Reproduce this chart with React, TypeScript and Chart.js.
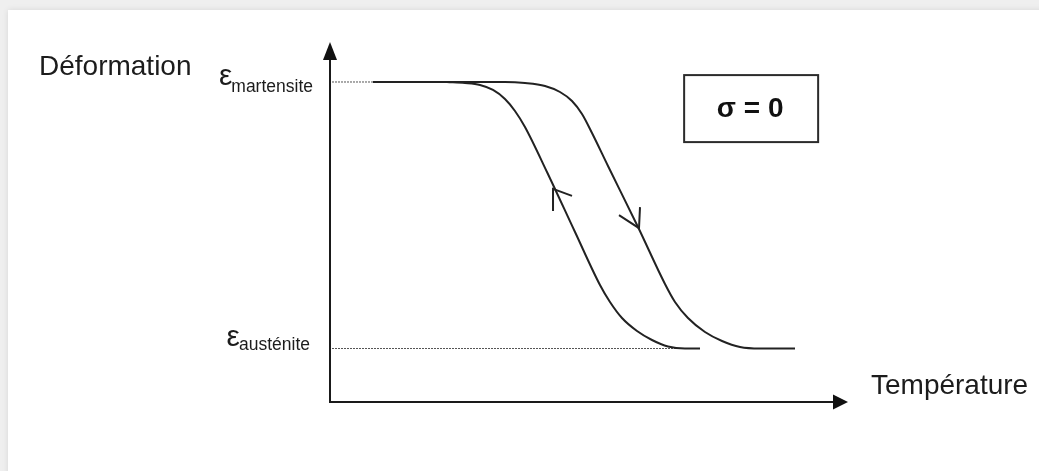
import React, { useEffect, useRef } from "react";
import { Chart, registerables } from "chart.js";

Chart.register(...registerables);

// Heating branch (martensite -> austenite), temperature vs deformation
const heatingTemp = [8.3, 33.78, 37.64, 41.51, 44.4, 46.72, 48.65, 50.58, 53.67, 59.46, 64.67, 66.6, 69.11, 72.39, 75.68, 79.15, 83.01, 89.77];
const heatingDef = [88.89, 88.89, 88.61, 87.78, 86.11, 83.61, 80.0, 74.72, 65.56, 48.61, 32.78, 27.78, 23.33, 19.44, 16.94, 15.28, 14.86, 14.86];

// Cooling branch (austenite -> martensite)
const coolingTemp = [22.59, 26.06, 28.96, 31.47, 33.78, 35.71, 37.64, 41.89, 47.3, 52.12, 54.05, 56.37, 59.27, 62.16, 65.25, 68.53, 71.43];
const coolingDef = [88.89, 88.61, 88.06, 86.67, 84.17, 80.83, 76.39, 63.89, 47.22, 32.5, 27.78, 23.33, 19.72, 17.22, 15.42, 14.86, 14.86];

// Reference levels
const levelNames = ["martensite", "austénite"];
const levelValues = [88.89, 14.86];
const levelDotEnd = [8.3, 71.0];

// Direction arrows on the branches [temp, def]
const heatingArrow = [59.46, 48.3];
const coolingArrow = [43.44, 59.2];

// Annotation box
const boxText = "σ = 0";
const boxCenter = [81.3, 81.5];

const yTitle = "Déformation";
const xTitle = "Température";

const FONT = '"Liberation Sans", Arial, Helvetica, sans-serif';

const diagramPlugin = {
  id: "diagram",
  beforeDatasetsDraw(chart: any) {
    const ctx = chart.ctx as CanvasRenderingContext2D;
    const xs = chart.scales.x;
    const ys = chart.scales.y;
    const x0 = xs.getPixelForValue(0);
    ctx.save();
    ctx.strokeStyle = "#555";
    ctx.lineWidth = 1;
    ctx.setLineDash([2, 1]);
    levelValues.forEach((v, i) => {
      const py = ys.getPixelForValue(v);
      ctx.beginPath();
      ctx.moveTo(x0 + 2, py);
      ctx.lineTo(xs.getPixelForValue(levelDotEnd[i]), py);
      ctx.stroke();
    });
    ctx.restore();
  },
  afterDatasetsDraw(chart: any) {
    const ctx = chart.ctx as CanvasRenderingContext2D;
    const xs = chart.scales.x;
    const ys = chart.scales.y;
    const x0 = xs.getPixelForValue(0);
    const y0 = ys.getPixelForValue(0);
    const xTip = xs.getPixelForValue(100);
    const yTip = ys.getPixelForValue(100);
    ctx.save();
    // axes
    ctx.strokeStyle = "#1a1a1a";
    ctx.fillStyle = "#111";
    ctx.lineWidth = 2;
    ctx.beginPath();
    ctx.moveTo(x0, y0 + 1);
    ctx.lineTo(x0, yTip + 14);
    ctx.moveTo(x0 - 1, y0);
    ctx.lineTo(xTip - 13, y0);
    ctx.stroke();
    ctx.beginPath();
    ctx.moveTo(x0, yTip);
    ctx.lineTo(x0 - 7, yTip + 18);
    ctx.lineTo(x0 + 7, yTip + 18);
    ctx.closePath();
    ctx.fill();
    ctx.beginPath();
    ctx.moveTo(xTip, y0);
    ctx.lineTo(xTip - 15, y0 - 7.5);
    ctx.lineTo(xTip - 15, y0 + 7.5);
    ctx.closePath();
    ctx.fill();

    // branch arrows
    ctx.strokeStyle = "#222";
    ctx.lineWidth = 2;
    const ua = [xs.getPixelForValue(coolingArrow[0]), ys.getPixelForValue(coolingArrow[1])];
    ctx.beginPath();
    ctx.moveTo(ua[0] - 2, ua[1] + 22);
    ctx.lineTo(ua[0] - 2, ua[1]);
    ctx.lineTo(ua[0] + 17, ua[1] + 7);
    ctx.stroke();
    const da = [xs.getPixelForValue(heatingArrow[0]), ys.getPixelForValue(heatingArrow[1])];
    ctx.beginPath();
    ctx.moveTo(da[0] + 2, da[1] - 21);
    ctx.lineTo(da[0] + 1, da[1]);
    ctx.lineTo(da[0] - 19, da[1] - 13);
    ctx.stroke();

    // texts
    ctx.fillStyle = "#1c1c1c";
    ctx.textBaseline = "alphabetic";
    ctx.textAlign = "left";
    ctx.font = `28px ${FONT}`;
    ctx.fillText(yTitle, 39, 75);
    ctx.fillText(xTitle, xTip + 23, y0 - 8);

    // level labels (epsilon + subscript), right aligned near the axis
    const offsets = [
      { right: 313, eps: 3, sub: 10 },
      { right: 310, eps: -3, sub: 1.5 },
    ];
    levelNames.forEach((name, i) => {
      const py = ys.getPixelForValue(levelValues[i]);
      const o = offsets[i];
      ctx.font = `17.5px ${FONT}`;
      const subW = ctx.measureText(name).width;
      const subLeft = o.right - subW;
      ctx.fillText(name, subLeft, py + o.sub);
      ctx.font = `30px ${FONT}`;
      const epsW = ctx.measureText("ε").width;
      ctx.fillText("ε", subLeft - epsW + 1, py + o.eps);
    });

    // sigma box
    const bx = xs.getPixelForValue(boxCenter[0]);
    const by = ys.getPixelForValue(boxCenter[1]);
    ctx.strokeStyle = "#2b2b2b";
    ctx.lineWidth = 2;
    ctx.strokeRect(bx - 67, by - 33.5, 134, 67);
    ctx.font = `bold 28px ${FONT}`;
    ctx.textAlign = "center";
    ctx.textBaseline = "middle";
    ctx.fillStyle = "#111";
    ctx.fillText(boxText, bx - 1, by + 1);
    ctx.restore();
  },
};

export default function App() {
  const ref = useRef<HTMLCanvasElement | null>(null);
  useEffect(() => {
    if (!ref.current) return;
    const chart = new Chart(ref.current, {
      type: "scatter",
      data: {
        datasets: [
          {
            label: "Chauffage",
            data: heatingTemp.map((t, i) => ({ x: t, y: heatingDef[i] })),
            showLine: true,
            borderColor: "#222",
            borderWidth: 2,
            pointRadius: 0,
            cubicInterpolationMode: "monotone",
            fill: false,
          },
          {
            label: "Refroidissement",
            data: coolingTemp.map((t, i) => ({ x: t, y: coolingDef[i] })),
            showLine: true,
            borderColor: "#222",
            borderWidth: 2,
            pointRadius: 0,
            cubicInterpolationMode: "monotone",
            fill: false,
          },
        ],
      },
      options: {
        responsive: false,
        animation: false,
        devicePixelRatio: 1,
        layout: { padding: { left: 330, right: 191, top: 42, bottom: 69 } },
        plugins: { legend: { display: false }, tooltip: { enabled: false } },
        scales: {
          x: { type: "linear", min: 0, max: 100, display: false },
          y: { type: "linear", min: 0, max: 100, display: false },
        },
      },
      plugins: [diagramPlugin],
    });
    return () => chart.destroy();
  }, []);

  return (
    <div
      style={{
        position: "fixed",
        left: 0,
        top: 0,
        width: 1039,
        height: 471,
        background: "#efefef",
        overflow: "hidden",
      }}
    >
      <div
        style={{
          position: "absolute",
          left: 8,
          top: 10,
          right: -20,
          bottom: -20,
          background: "#fff",
          boxShadow: "0 0 6px rgba(0,0,0,0.10)",
        }}
      />
      <canvas
        ref={ref}
        width={1039}
        height={471}
        style={{ position: "absolute", left: 0, top: 0, display: "block" }}
      />
    </div>
  );
}
